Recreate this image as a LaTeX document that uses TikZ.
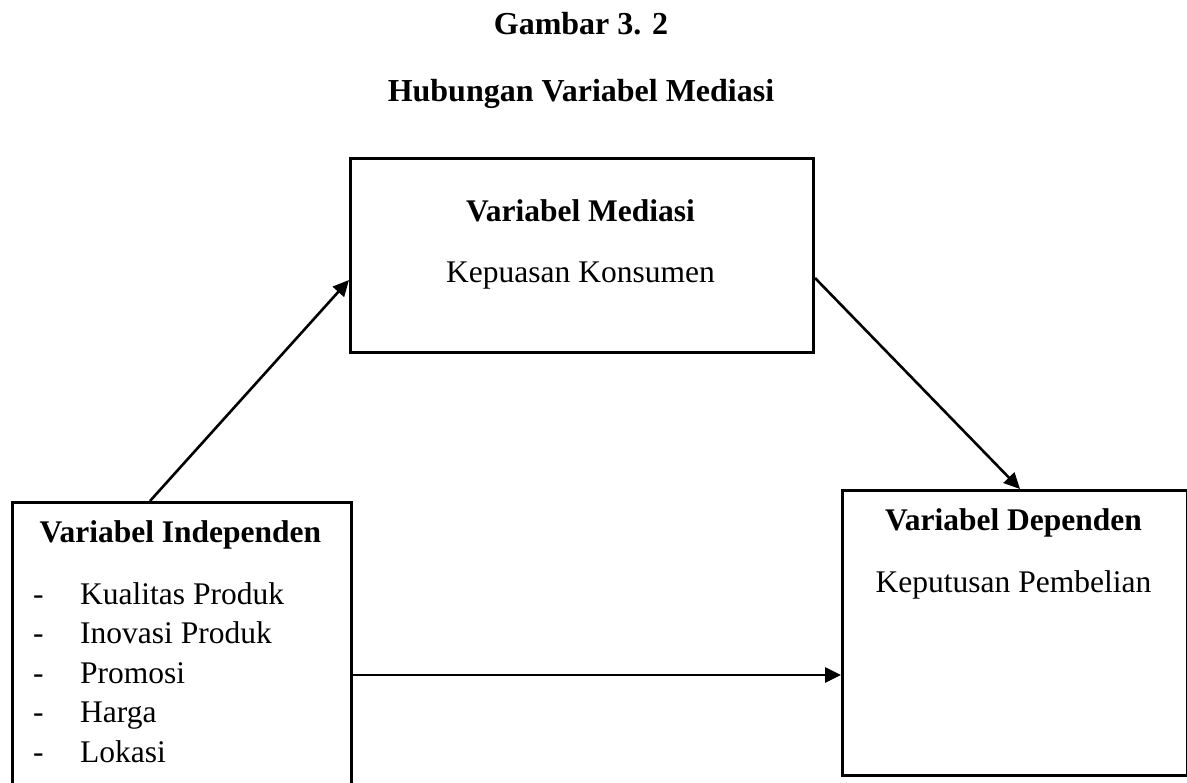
\documentclass[tikz,border=0pt]{standalone}
\usepackage{fontspec}
\setmainfont{Liberation Serif}
\usetikzlibrary{arrows.meta, positioning}
\tikzset{
  varbox/.style={draw, line width=3pt, minimum width=#1, inner sep=0pt, anchor=north west},
  boxtxt/.style={font=\fontsize{31.5}{38}\selectfont, anchor=base, inner sep=0pt},
  boxhead/.style={boxtxt, font=\fontsize{31.5}{38}\selectfont\bfseries},
  itemtxt/.style={boxtxt, anchor=base west},
  link/.style={line width=2.6pt, -{Triangle[length=16pt,width=15pt]}}
}
\begin{document}
\begin{tikzpicture}[x=1pt,y=-1pt]
  \useasboundingbox (0,0) rectangle (1187,783);
  % Titles
  \node[boxhead, font=\fontsize{32}{38}\selectfont\bfseries] (judul) at (581,35) {Gambar 3. 2};
  \node[boxhead, font=\fontsize{32}{38}\selectfont\bfseries] (subjudul) at (581,102) {Hubungan Variabel Mediasi};
  % Boxes
  \node[varbox=463pt, minimum height=194pt] (mediasi) at (349,157) {};
  \node[varbox=339pt, minimum height=290pt] (indep) at (11,501) {};
  \node[varbox=345pt, minimum height=285pt] (dep) at (841,489) {};
  % Mediating variable
  \node[boxhead] (medT) at (580.5,222) {Variabel Mediasi};
  \node[boxtxt] (medI) at (580.5,283) {Kepuasan Konsumen};
  % Independent variables
  \node[boxhead] (indT) at (180.5,543) {Variabel Independen};
  \foreach \nama [count=\i from 0] in {Kualitas Produk, Inovasi Produk, Promosi, Harga, Lokasi}{
    \node[itemtxt] (strip\i) at (33,604+39.5*\i) {-};
    \node[itemtxt] (item\i) at (80,604+39.5*\i) {\nama};
  }
  % Dependent variable
  \node[boxhead] (depT) at (1013.5,531) {Variabel Dependen};
  \node[boxtxt] (depI) at (1013.5,592) {Keputusan Pembelian};
  % Links
  \draw[link] ([xshift=139pt]indep.north west) -- ([yshift=-123pt]mediasi.north west);
  \draw[link] ([yshift=-121pt]mediasi.north east) -- ([xshift=179pt]dep.north west);
  \draw[link] ([yshift=-174pt]indep.north east) -- ([yshift=-186pt]dep.north west);
\end{tikzpicture}
\end{document}
